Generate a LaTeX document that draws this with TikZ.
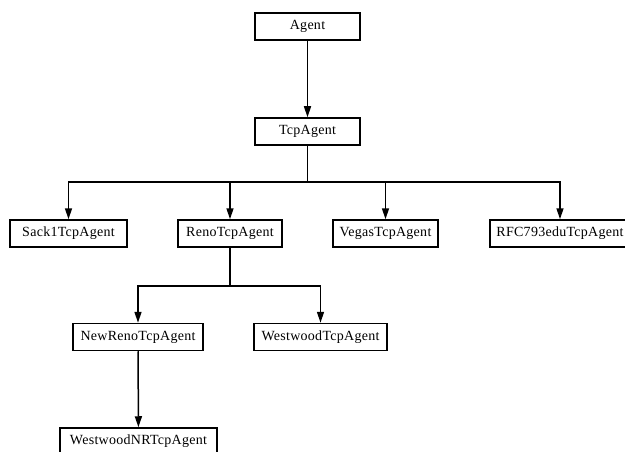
\documentclass[tikz,border=0pt]{standalone}
\usepackage{fontspec}
\setmainfont[LetterSpace=2]{Liberation Serif}
\usetikzlibrary{arrows.meta}
\begin{document}
\begin{tikzpicture}[x=1pt,y=-1pt,
  cls/.style={draw,line width=1.5pt,inner sep=0pt,minimum height=27,font=\fontsize{14}{15}\selectfont},
  arr/.style={line width=1.5pt,-{Triangle[length=11pt,width=7pt]}},
  lnk/.style={line width=1.5pt}]
\useasboundingbox (0,0) rectangle (625,452);
\node[cls,minimum width=105] (agent) at (307.5,26.5) {Agent};
\node[cls,minimum width=105] (tcp) at (307.5,131.5) {TcpAgent};
\node[cls,minimum width=117] (sack) at (68.5,233.5) {Sack1TcpAgent};
\node[cls,minimum width=104] (reno) at (230,233.5) {RenoTcpAgent};
\node[cls,minimum width=105] (vegas) at (385.5,233.5) {VegasTcpAgent};
\node[cls,minimum width=140] (rfc) at (560,233.5) {RFC793eduTcpAgent};
\node[cls,minimum width=130] (newreno) at (138,337) {NewRenoTcpAgent};
\node[cls,minimum width=133] (westwood) at (320.5,337) {WestwoodTcpAgent};
\node[cls,minimum width=157] (westwoodnr) at (138.5,441.5) {WestwoodNRTcpAgent};
% inheritance links
\draw[arr] (agent) -- (tcp);
\coordinate (bar1) at (307.5,182);
\draw[lnk] (tcp.south) -- (bar1);
\draw[arr] (bar1) -| (sack.north);
\draw[arr] (bar1) -| (reno.north);
\draw[arr] (bar1) -| (vegas.north);
\draw[arr] (bar1) -| (rfc.north);
\coordinate (bar2) at (230,286);
\draw[lnk] (reno.south) -- (bar2);
\draw[arr] (bar2) -| (newreno.north);
\draw[arr] (bar2) -| (westwood.north);
\draw[arr] (newreno) -- (westwoodnr);
\end{tikzpicture}
\end{document}
